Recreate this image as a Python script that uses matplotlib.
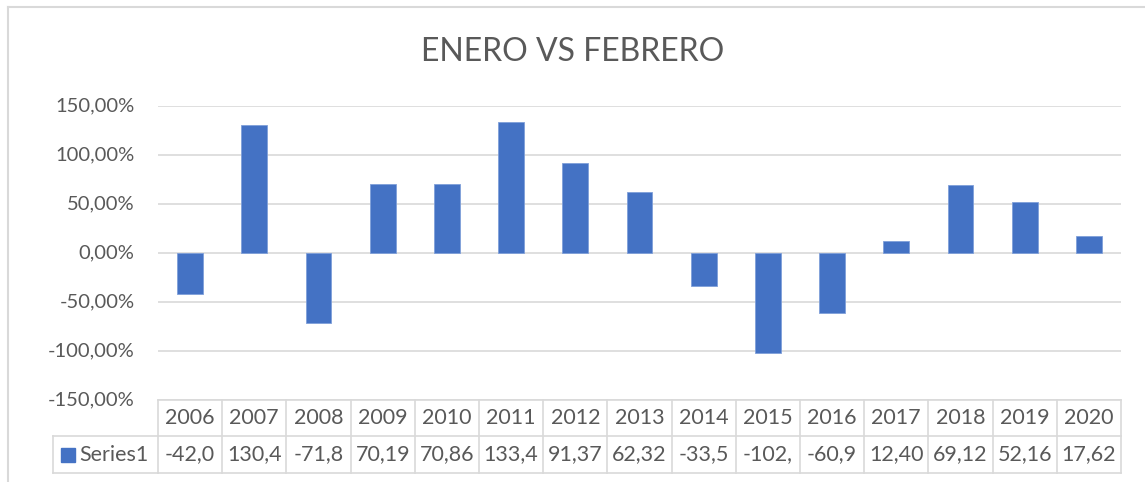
import matplotlib
matplotlib.use("Agg")
import matplotlib.pyplot as plt
from matplotlib.lines import Line2D
from matplotlib.patches import Rectangle
from matplotlib.ticker import FuncFormatter

# values (percent)
years = ["2006", "2007", "2008", "2009", "2010", "2011", "2012", "2013",
         "2014", "2015", "2016", "2017", "2018", "2019", "2020"]
values = [-42.0, 130.4, -71.8, 70.19, 70.86, 133.4, 91.37, 62.32,
          -33.5, -102.5, -60.9, 12.40, 69.12, 52.16, 17.62]
# table text as Excel shows it (cells clip the long numbers)
table_text = ["-42,0", "130,4", "-71,8", "70,19", "70,86", "133,4", "91,37", "62,32",
              "-33,5", "-102,", "-60,9", "12,40", "69,12", "52,16", "17,62"]
series_name = "Series1"
title = "ENERO VS FEBRERO"

BLUE = "#4472C4"
GRID = "#d9d9d9"
TXT = "#595959"
plt.rcParams["font.family"] = ["Lato", "DejaVu Sans"]

W, H = 1145, 482
fig = plt.figure(figsize=(W / 100, H / 100), dpi=100)

# plot area in pixels
x0, x1, ytop, ybot = 158, 1121, 106, 400
ax = fig.add_axes([x0 / W, 1 - ybot / H, (x1 - x0) / W, (ybot - ytop) / H])

n = len(years)
ax.bar(range(n), values, width=0.4, color=BLUE, edgecolor="#7f9fd9",
       linewidth=0.6, zorder=3)
ax.set_xlim(-0.5, n - 0.5)
ax.set_ylim(-150, 150)
ax.set_yticks(range(-150, 151, 50))
ax.yaxis.set_major_formatter(FuncFormatter(lambda v, _: f"{v:.2f}%".replace(".", ",")))
ax.grid(axis="y", color=GRID, linewidth=1.2, zorder=0)
ax.set_xticks([])
for s in ax.spines.values():
    s.set_visible(False)
ax.tick_params(axis="y", length=0, pad=17, labelsize=14.5, labelcolor=TXT)
for lab in ax.get_yticklabels():
    lab.set_verticalalignment("center")

fig.text(0.5, 1 - 52 / H, title, ha="center", va="center", fontsize=23, color=TXT)

# data table under the plot
ph = ybot - ytop
r1 = -36 / ph      # bottom of the year row, axes units
r2 = -73 / ph      # bottom of the series row
trans = ax.get_xaxis_transform()
lw = 1.2
def hline(xa, xb, y, tr=trans):
    ax.add_line(Line2D([xa, xb], [y, y], transform=tr, color=GRID, lw=lw, clip_on=False))
def vline(x, ya, yb, tr=trans):
    ax.add_line(Line2D([x, x], [ya, yb], transform=tr, color=GRID, lw=lw, clip_on=False))

hline(-0.5, n - 0.5, 0)
hline(-0.5, n - 0.5, r1)
hline(-0.5, n - 0.5, r2)
for i in range(n + 1):
    vline(i - 0.5, 0, r2)
for i in range(n):
    ax.text(i, r1 / 2, years[i], transform=trans, ha="center", va="center",
            fontsize=15.5, color=TXT)
    ax.text(i, (r1 + r2) / 2, table_text[i], transform=trans, ha="center",
            va="center", fontsize=15.5, color=TXT)

# legend key cell on the left of the series row
def fx(px):
    return px / W
def fy(py):
    return 1 - py / H
fig.add_artist(Line2D([fx(53), fx(x0)], [fy(436), fy(436)], color=GRID, lw=lw))
fig.add_artist(Line2D([fx(53), fx(x0)], [fy(473), fy(473)], color=GRID, lw=lw))
fig.add_artist(Line2D([fx(53), fx(53)], [fy(436), fy(473)], color=GRID, lw=lw))
fig.add_artist(Rectangle((fx(61), fy(462)), 14 / W, 14 / H, color=BLUE))
fig.text(fx(79), fy(455), series_name, ha="left", va="center", fontsize=15.5, color=TXT)

# chart frame (top and left edges visible)
fig.add_artist(Line2D([fx(8), fx(W)], [fy(7), fy(7)], color=GRID, lw=1.5))
fig.add_artist(Line2D([fx(8), fx(8)], [fy(7), fy(H)], color=GRID, lw=1.5))

fig.savefig("out.png", dpi=100, facecolor="white")
